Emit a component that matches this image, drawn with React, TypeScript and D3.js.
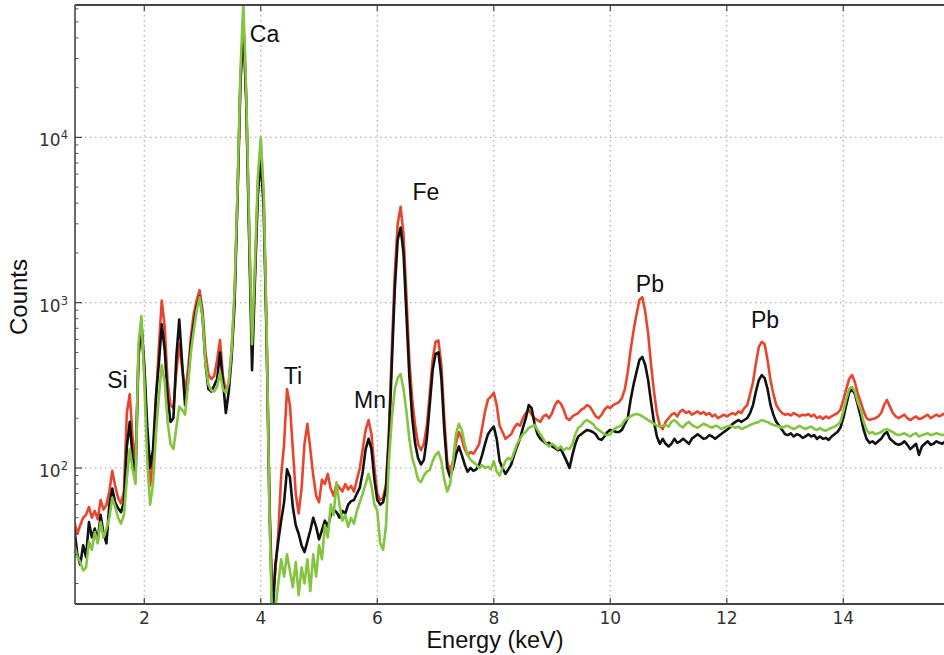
import React from "react";
import * as d3 from "d3";

// Energy channels (keV), 0.80 … 15.75 in 0.05 keV steps
const ENERGY: number[] = d3.range(0, 300).map((i) => +(0.8 + i * 0.05).toFixed(2));

const RED: number[] = [
  47, 40, 45, 50, 52, 58, 50, 55, 49, 64,
  56, 60, 72, 96, 78, 66, 61, 72, 215, 280,
  150, 110, 480, 730, 380, 150, 78, 110, 250, 540,
  1030, 720, 330, 240, 230, 380, 560, 400, 290, 390,
  620, 860, 1040, 1190, 900, 500, 370, 345, 360, 450,
  595, 360, 290, 330, 520, 1100, 4500, 22000, 50000, 17000,
  2600, 500, 1500, 5200, 9000, 4200, 650, 60, 16, 24,
  40, 90, 140, 300, 240, 130, 70, 53, 75, 140,
  185, 130, 90, 68, 62, 85, 80, 92, 75, 68,
  80, 76, 72, 80, 74, 78, 72, 85, 100, 130,
  170, 195, 160, 100, 70, 64, 66, 80, 170, 520,
  1500, 3000, 3800, 2600, 1100, 450, 260, 180, 140, 128,
  140, 180, 280, 450, 580, 590, 420, 200, 110, 95,
  110, 140, 165, 150, 130, 120, 125, 122, 130, 140,
  175, 220, 260, 270, 285, 240, 180, 165, 150, 155,
  160, 175, 185, 180, 200, 215, 225, 210, 200, 195,
  190, 205, 210, 200, 215, 240, 255, 245, 225, 200,
  195, 205, 210, 215, 225, 230, 240, 235, 220, 205,
  200, 210, 225, 235, 230, 240, 245, 250, 265, 300,
  380, 520, 680, 850, 1040, 1080, 880, 650, 420, 290,
  215, 180, 172, 190, 200, 210, 215, 205, 220, 225,
  215, 220, 210, 215, 220, 212, 218, 210, 215, 205,
  210, 200, 205, 210, 205, 210, 215, 210, 220, 215,
  230, 240, 280, 330, 430, 540, 580, 560, 450, 340,
  280, 240, 225, 215, 210, 212, 208, 215, 210, 205,
  210, 208, 212, 205, 210, 200, 205, 198, 205, 200,
  206, 210, 215, 225, 258, 300, 345, 365, 330, 280,
  250, 220, 200, 195, 198, 200, 205, 215, 240, 258,
  235, 215, 205, 200, 205, 210, 200, 195, 200, 205,
  198, 200, 205, 210, 200, 205, 210, 205, 210, 215,
];

const BLACK: number[] = [
  43, 30, 26, 34, 29, 47, 38, 43, 36, 52,
  40, 35, 60, 75, 62, 57, 54, 62, 134, 190,
  115, 88, 470, 760, 420, 180, 100, 130, 270, 430,
  740, 520, 270, 190, 200, 470, 790, 430, 240, 330,
  560, 750, 950, 1090, 830, 430, 300, 290, 315, 345,
  500, 335, 215, 290, 470, 1000, 4300, 21000, 49000, 16500,
  2500, 390, 1400, 4500, 7500, 3700, 600, 55, 12, 26,
  36, 48, 62, 98, 88, 58, 45, 40, 34, 31,
  36, 42, 50, 44, 37, 42, 48, 44, 52, 56,
  54, 50, 55, 53, 60, 63, 64, 70, 76, 95,
  130, 150, 130, 85, 64, 60, 62, 75, 150, 430,
  1200, 2400, 2850, 2000, 850, 360, 200, 140, 115, 105,
  112, 150, 240, 390, 490, 500, 350, 170, 100, 88,
  100, 120, 135, 120, 105, 95, 100, 96, 98, 105,
  120, 140, 160, 170, 178, 150, 110, 100, 92, 98,
  105, 120, 135, 150, 175, 200, 240, 230, 185, 160,
  150, 145, 140, 142, 135, 132, 128, 130, 120, 110,
  100, 120, 140, 155, 160, 165, 170, 168, 165, 160,
  150, 148, 155, 165, 170, 168, 165, 165, 170, 185,
  200, 260, 320, 380, 450, 470, 420, 340, 250, 190,
  155, 140, 150, 140, 135, 140, 150, 142, 145, 150,
  145, 140, 150, 155, 160, 155, 150, 152, 158, 155,
  150, 155, 160, 165, 170, 175, 185, 190, 195, 190,
  195, 200, 215, 240, 290, 340, 365, 350, 300, 240,
  210, 190, 180, 170, 160, 158, 162, 155, 160, 158,
  152, 155, 160, 155, 158, 150, 155, 150, 152, 148,
  155, 160, 165, 175, 200, 240, 285, 300, 280, 240,
  205, 170, 150, 142, 145, 140, 145, 150, 160, 165,
  150, 145, 140, 138, 140, 145, 138, 130, 135, 140,
  120, 135, 140, 145, 138, 140, 145, 142, 140, 145,
];

const GREEN: number[] = [
  34, 29, 27, 24, 25, 36, 32, 41, 35, 47,
  38, 43, 50, 66, 58, 50, 46, 52, 85, 130,
  98, 80, 560, 830, 340, 110, 60, 80, 160, 270,
  420, 330, 190, 140, 130, 175, 235, 225, 210, 320,
  500, 680, 900, 1080, 820, 430, 320, 295, 290, 310,
  380, 300, 285, 330, 520, 1200, 4800, 25000, 65000, 19000,
  3000, 560, 1700, 5800, 10000, 4600, 700, 50, 10, 14,
  20, 28, 22, 30, 24, 19, 27, 17, 25, 20,
  28, 18, 30, 22, 34, 28, 45, 38, 60, 52,
  82, 60, 48, 52, 44, 50, 46, 55, 62, 70,
  80, 92, 78, 60, 55, 35, 32, 45, 110, 200,
  300, 350, 370, 300, 220, 150, 115, 100, 85, 82,
  90, 95, 97, 110, 120, 125, 110, 85, 72, 80,
  110, 160, 185, 170, 140, 120, 112, 108, 105, 100,
  104, 100, 102, 98, 110, 95, 90, 100, 110, 115,
  112, 125, 140, 150, 160, 165, 175, 178, 182, 170,
  160, 150, 140, 135, 140, 136, 130, 135, 128, 132,
  130, 140, 160, 175, 180, 190, 195, 190, 185, 175,
  170, 165, 160, 158, 160, 170, 175, 178, 182, 195,
  200, 205, 210, 212, 210, 205, 200, 195, 190, 185,
  180, 178, 180, 182, 178, 190, 195, 188, 180, 176,
  185, 190, 182, 178, 175, 180, 185, 182, 178, 175,
  180, 178, 172, 175, 178, 180, 178, 175, 178, 172,
  175, 178, 182, 185, 188, 190, 195, 192, 190, 185,
  182, 180, 178, 175, 178, 180, 175, 172, 176, 180,
  175, 172, 176, 178, 172, 170, 174, 170, 168, 172,
  175, 178, 182, 190, 220, 260, 300, 310, 290, 250,
  225, 190, 170, 162, 165, 160, 162, 165, 170, 172,
  168, 165, 160, 158, 160, 162, 158, 155, 160, 162,
  155, 158, 160, 162, 158, 160, 162, 160, 158, 160,
];

const X_TICKS = [2, 4, 6, 8, 10, 12, 14];
const Y_TICKS = [100, 1000, 10000];
const Y_TICK_EXP = ["2", "3", "4"];

const ANNOTATIONS = [
  { label: "Ca", energy: 4.064, counts: 37800 },
  { label: "Fe", energy: 6.836, counts: 4180 },
  { label: "Si", energy: 1.54, counts: 305 },
  { label: "Ti", energy: 4.553, counts: 322 },
  { label: "Mn", energy: 5.875, counts: 231 },
  { label: "Pb", energy: 10.68, counts: 1160 },
  { label: "Pb", energy: 12.656, counts: 703 },
];

const SERIES = [
  { name: "red", values: RED, color: "#e8452f" },
  { name: "black", values: BLACK, color: "#111111" },
  { name: "green", values: GREEN, color: "#84c441" },
];

const W = 944;
const H = 655;
const L = 75;
const R = 944;
const T = 5;
const B = 604;

export default function App() {
  const x = d3.scaleLinear().domain([0.8103, 15.729]).range([L, R]);
  const y = d3.scaleLog().domain([15.03, 63250]).range([B, T]);

  const minor: number[] = [];
  [10, 100, 1000, 10000].forEach((d) => {
    for (let m = 2; m <= 9; m++) {
      const v = d * m;
      if (v > 15.03 && v < 63250) minor.push(v);
    }
  });

  const line = (vals: number[]) =>
    d3
      .line<number>()
      .x((_, i) => x(ENERGY[i]))
      .y((v) => y(Math.max(v, 1)))
      .curve(d3.curveLinear)(vals) || "";

  const labelFont = "'Liberation Sans', Arial, sans-serif";
  const tickFont = "'DejaVu Sans', sans-serif";

  return (
    <svg
      width={W}
      height={H}
      style={{ position: "absolute", left: 0, top: 0, background: "#fff" }}
    >
      <defs>
        <clipPath id="plot">
          <rect x={L} y={T} width={R - L} height={B - T} />
        </clipPath>
      </defs>
      <rect x={0} y={0} width={W} height={H} fill="#fff" />

      {/* grid */}
      {X_TICKS.map((t) => (
        <line
          key={"gx" + t}
          x1={x(t)}
          x2={x(t)}
          y1={T}
          y2={B}
          stroke="#b0b0b0"
          strokeWidth={1.3}
          strokeDasharray="1.5 3.5"
        />
      ))}
      {Y_TICKS.map((t) => (
        <line
          key={"gy" + t}
          x1={L}
          x2={R}
          y1={y(t)}
          y2={y(t)}
          stroke="#b0b0b0"
          strokeWidth={1.3}
          strokeDasharray="1.5 3.5"
        />
      ))}

      {/* series */}
      <g clipPath="url(#plot)">
        {SERIES.map((s) => (
          <path
            key={s.name}
            d={line(s.values)}
            fill="none"
            stroke={s.color}
            strokeWidth={2.6}
            strokeLinejoin="round"
          />
        ))}
      </g>

      {/* spines */}
      <line x1={L} x2={R} y1={T} y2={T} stroke="#444" strokeWidth={2} />
      <line x1={L} x2={R} y1={B} y2={B} stroke="#444" strokeWidth={2} />
      <line x1={L} x2={L} y1={T} y2={B} stroke="#444" strokeWidth={1.6} />

      {/* ticks */}
      {X_TICKS.map((t) => (
        <g key={"tx" + t}>
          <line x1={x(t)} x2={x(t)} y1={B} y2={B - 6} stroke="#444" strokeWidth={1.2} />
          <line x1={x(t)} x2={x(t)} y1={T} y2={T + 6} stroke="#444" strokeWidth={1.2} />
          <text
            x={x(t)}
            y={624}
            textAnchor="middle"
            fontFamily={tickFont}
            fontSize={17}
            fill="#333"
          >
            {t}
          </text>
        </g>
      ))}
      {Y_TICKS.map((t, i) => (
        <g key={"ty" + t}>
          <line x1={L} x2={L + 7} y1={y(t)} y2={y(t)} stroke="#444" strokeWidth={1.2} />
          <text
            x={68}
            y={y(t) + 9}
            textAnchor="end"
            fontFamily={tickFont}
            fontSize={17}
            fill="#333"
          >
            10
            <tspan dy={-7} fontSize={11.5}>
              {Y_TICK_EXP[i]}
            </tspan>
          </text>
        </g>
      ))}
      {minor.map((t) => (
        <line key={"my" + t} x1={L} x2={L + 3.5} y1={y(t)} y2={y(t)} stroke="#555" strokeWidth={1} />
      ))}

      {/* annotations */}
      {ANNOTATIONS.map((a, i) => (
        <text
          key={"a" + i}
          x={x(a.energy)}
          y={y(a.counts)}
          textAnchor="middle"
          fontFamily={labelFont}
          fontSize={23}
          fill="#111"
        >
          {a.label}
        </text>
      ))}

      {/* axis labels */}
      <text
        x={495}
        y={648}
        textAnchor="middle"
        fontFamily={labelFont}
        fontSize={23.5}
        fill="#111"
      >
        Energy (keV)
      </text>
      <text
        transform="translate(27,297) rotate(-90)"
        textAnchor="middle"
        fontFamily={labelFont}
        fontSize={24}
        fill="#111"
      >
        Counts
      </text>
    </svg>
  );
}
